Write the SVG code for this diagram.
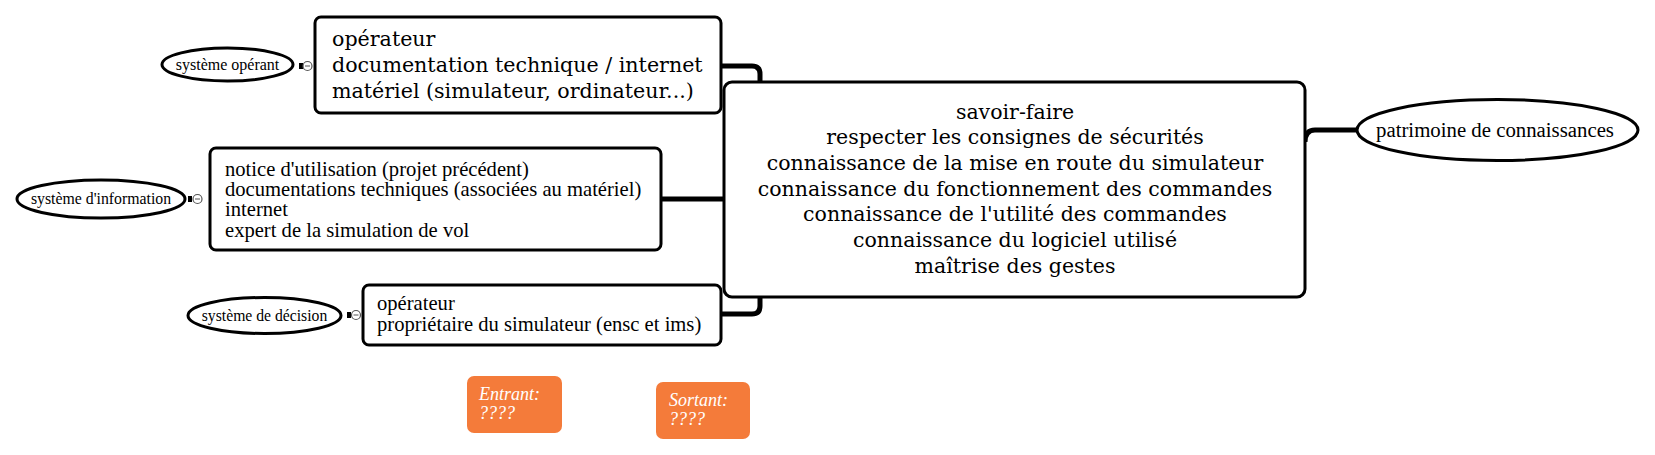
<svg xmlns="http://www.w3.org/2000/svg" width="1655" height="455" viewBox="0 0 1655 455">
<style>
.box{fill:#fff;stroke:#000;stroke-width:3}
.ell{fill:#fff;stroke:#000;stroke-width:3}
.con{fill:none;stroke:#000;stroke-width:5;stroke-linecap:butt}
.slab{font-family:"DejaVu Serif","Liberation Serif",serif;fill:#000}
.ser{font-family:"Liberation Serif","DejaVu Serif",serif;fill:#000}
.tag{fill:#F47B3A}
.tagt{font-family:"Liberation Serif",serif;font-style:italic;font-size:18px;fill:#fff}
.knob{fill:#fff;stroke:#555;stroke-width:1.2}
</style>
<g id="connectors">
<path class="con" d="M721,66 H752 Q760,66 760,74 V83"/>
<path class="con" d="M661,199 H724"/>
<path class="con" d="M721,314 H752 Q760,314 760,306 V296"/>
<path class="con" d="M1305,142 Q1305,130 1315,130 H1358"/>
</g>
<g id="node-operant-box">
<rect class="box" x="315" y="17" width="406" height="96" rx="6"/>
<text class="slab" font-size="20.6"><tspan x="332" y="45.5">opérateur</tspan><tspan x="332" y="71.5">documentation technique / internet</tspan><tspan x="332" y="97.5">matériel (simulateur, ordinateur...)</tspan></text>
</g>
<g id="node-operant">
<ellipse class="ell" cx="227.5" cy="64.5" rx="65.5" ry="16.5"/>
<text class="ser" font-size="16" x="227.5" y="69.5" text-anchor="middle">système opérant</text>
<rect x="299" y="63" width="4" height="6" fill="#000"/>
<circle class="knob" cx="307.5" cy="66" r="4.5"/>
<path d="M305,66 H310" stroke="#555" stroke-width="1"/>
</g>
<g id="node-information-box">
<rect class="box" x="210" y="148" width="451" height="102" rx="6"/>
<text class="ser" font-size="20.6"><tspan x="225" y="175.5">notice d'utilisation (projet précédent)</tspan><tspan x="225" y="196">documentations techniques (associées au matériel)</tspan><tspan x="225" y="216">internet</tspan><tspan x="225" y="236.5">expert de la simulation de vol</tspan></text>
</g>
<g id="node-information">
<ellipse class="ell" cx="101" cy="199" rx="84" ry="19"/>
<text class="ser" font-size="15.8" x="101" y="204" text-anchor="middle">système d'information</text>
<rect x="188" y="196" width="4" height="6" fill="#000"/>
<circle class="knob" cx="197.5" cy="199" r="4.5"/>
<path d="M195,199 H200" stroke="#555" stroke-width="1"/>
</g>
<g id="node-decision-box">
<rect class="box" x="363" y="285" width="358" height="60" rx="6"/>
<text class="ser" font-size="20.6"><tspan x="377" y="310">opérateur</tspan><tspan x="377" y="331">propriétaire du simulateur (ensc et ims)</tspan></text>
</g>
<g id="node-decision">
<ellipse class="ell" cx="264.5" cy="315.5" rx="76.5" ry="18"/>
<text class="ser" font-size="15.7" x="264.5" y="320.5" text-anchor="middle">système de décision</text>
<rect x="347" y="312" width="4" height="6" fill="#000"/>
<circle class="knob" cx="356" cy="315" r="4.5"/>
<path d="M353.5,315 H358.5" stroke="#555" stroke-width="1"/>
</g>
<g id="node-savoir-faire">
<rect class="box" x="724" y="82" width="581" height="215" rx="8"/>
<text class="slab" font-size="20.5" text-anchor="middle"><tspan x="1015" y="118.5">savoir-faire</tspan><tspan x="1015" y="144.2">respecter les consignes de sécurités</tspan><tspan x="1015" y="169.9">connaissance de la mise en route du simulateur</tspan><tspan x="1015" y="195.6">connaissance du fonctionnement des commandes</tspan><tspan x="1015" y="221.3">connaissance de l'utilité des commandes</tspan><tspan x="1015" y="247">connaissance du logiciel utilisé</tspan><tspan x="1015" y="272.7">maîtrise des gestes</tspan></text>
</g>
<g id="node-patrimoine">
<ellipse class="ell" cx="1497.5" cy="130" rx="140.5" ry="30.5"/>
<text class="ser" font-size="20.8" x="1495" y="136.5" text-anchor="middle">patrimoine de connaissances</text>
</g>
<g id="node-entrant">
<rect class="tag" x="467" y="376" width="95" height="57" rx="7"/>
<text class="tagt"><tspan x="479" y="400">Entrant:</tspan><tspan x="479" y="419">????</tspan></text>
</g>
<g id="node-sortant">
<rect class="tag" x="656" y="382" width="94" height="57" rx="7"/>
<text class="tagt"><tspan x="669" y="406">Sortant:</tspan><tspan x="669" y="425">????</tspan></text>
</g>
</svg>
